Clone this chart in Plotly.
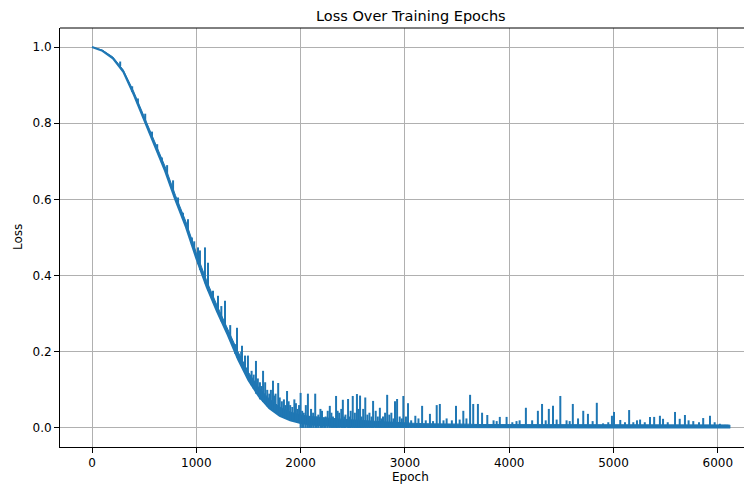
import plotly.graph_objects as go

# ---------------- data ----------------
base_epoch = list(range(0, 6101, 100)) + [6120]

# lower envelope of the loss curve
base_loss = [1.0, 0.99, 0.97, 0.935, 0.875, 0.81, 0.745, 0.675, 0.598, 0.528,
             0.445, 0.37, 0.305, 0.245, 0.18, 0.125, 0.083, 0.052, 0.032, 0.02,
             0.013, 0.009, 0.007, 0.005, 0.004, 0.003, 0.003, 0.0025, 0.0025, 0.002,
             0.002, 0.002, 0.002, 0.002, 0.002, 0.002, 0.002, 0.002, 0.002, 0.002,
             0.0015, 0.0015, 0.0015, 0.0015, 0.0015, 0.0015, 0.0015, 0.0015, 0.0015, 0.0015,
             0.001, 0.001, 0.001, 0.001, 0.001, 0.001, 0.001, 0.001, 0.001, 0.001,
             0.001, 0.001, 0.001]

# upper edge of the dense small-noise band
band_top = [1.0, 0.992, 0.974, 0.94, 0.883, 0.819, 0.755, 0.687, 0.611, 0.542,
            0.46, 0.386, 0.321, 0.262, 0.2, 0.146, 0.105, 0.076, 0.055, 0.042,
            0.034, 0.03, 0.027, 0.025, 0.023, 0.021, 0.019, 0.017, 0.016, 0.015,
            0.013, 0.012, 0.011, 0.011, 0.01, 0.01, 0.01, 0.009, 0.009, 0.009,
            0.009, 0.009, 0.009, 0.009, 0.009, 0.009, 0.009, 0.009, 0.009, 0.009,
            0.008, 0.008, 0.008, 0.008, 0.008, 0.008, 0.008, 0.008, 0.008, 0.008,
            0.008, 0.008, 0.007]

# individual loss spikes: epoch, level they rise from, peak value
spike_epoch = [270, 385, 440, 510, 575, 625, 670, 720, 777, 825,
               872, 920, 958, 980, 1016, 1035, 1083, 1112, 1160, 1208,
               1240, 1275, 1325, 1371, 1390, 1430, 1438, 1467, 1495, 1530,
               1572, 1610, 1640, 1680, 1735, 1760, 1785, 1820, 1870, 1900,
               1940, 1970,
               1550, 1590, 1625, 1660, 1700, 1715, 1750, 1800, 1840, 1855,
               1885, 1920, 1955, 1985]

spike_low = [0.95, 0.882, 0.85, 0.805, 0.762, 0.728, 0.697, 0.66, 0.617, 0.58,
             0.548, 0.512, 0.48, 0.465, 0.43, 0.415, 0.38, 0.36, 0.33, 0.30,
             0.28, 0.26, 0.235, 0.195, 0.185, 0.165, 0.16, 0.145, 0.13, 0.112,
             0.09, 0.075, 0.068, 0.057, 0.045, 0.04, 0.036, 0.03, 0.024, 0.02,
             0.017, 0.015,
             0.103, 0.087, 0.075, 0.064, 0.052, 0.049, 0.042, 0.032, 0.027, 0.025,
             0.022, 0.018, 0.016, 0.014]

spike_top = [0.962, 0.897, 0.865, 0.825, 0.778, 0.745, 0.71, 0.69, 0.65, 0.605,
             0.565, 0.548, 0.50, 0.49, 0.474, 0.466, 0.474, 0.434, 0.36, 0.347,
             0.32, 0.334, 0.27, 0.22, 0.263, 0.20, 0.216, 0.19, 0.19, 0.15,
             0.176, 0.12, 0.15, 0.10, 0.124, 0.09, 0.118, 0.07, 0.097, 0.06,
             0.075, 0.05,
             0.14, 0.13, 0.11, 0.12, 0.09, 0.10, 0.085, 0.08, 0.075, 0.06,
             0.07, 0.055, 0.065, 0.06]

# spikes in the flat tail (they rise from zero)
tail_epoch = [2000, 2015, 2030, 2050, 2070, 2085, 2100, 2120, 2140, 2155,
              2170, 2190, 2205, 2225, 2240, 2260, 2280, 2295, 2310, 2325,
              2340, 2355, 2370, 2390, 2405, 2420, 2430, 2455, 2470, 2480,
              2500, 2520, 2540, 2555, 2570, 2585, 2600, 2620, 2640, 2660,
              2680, 2695, 2720, 2740, 2760, 2775, 2790, 2810, 2830, 2850,
              2870, 2890, 2905, 2925, 2950, 2970, 2985,
              3010, 3030, 3060, 3100, 3130, 3165, 3200, 3240, 3270, 3305,
              3335, 3370, 3400, 3450, 3490, 3525, 3560, 3590, 3625, 3655,
              3700, 3740, 3790, 3850, 3880, 3910, 3975, 4030, 4070, 4100,
              4160, 4220, 4275, 4315, 4350, 4380, 4420, 4455, 4490, 4550,
              4580, 4610, 4660, 4710, 4755, 4800, 4840, 4900, 4950, 4985,
              5005, 5065, 5110, 5150, 5190, 5225, 5255, 5300, 5350, 5390,
              5445, 5475, 5520, 5590, 5635, 5685, 5720, 5765, 5820, 5860,
              5925, 5970, 6020, 6070]

tail_top = [0.092, 0.045, 0.04, 0.06, 0.09, 0.03, 0.05, 0.04, 0.09, 0.03,
            0.035, 0.05, 0.045, 0.025, 0.03, 0.045, 0.058, 0.04, 0.03, 0.025,
            0.084, 0.045, 0.04, 0.05, 0.074, 0.03, 0.035, 0.076, 0.03, 0.045,
            0.084, 0.04, 0.089, 0.05, 0.085, 0.03, 0.05, 0.08, 0.035, 0.04,
            0.03, 0.071, 0.045, 0.03, 0.053, 0.025, 0.03, 0.04, 0.087, 0.035,
            0.04, 0.025, 0.07, 0.076, 0.03, 0.025, 0.084,
            0.03, 0.065, 0.02, 0.032, 0.025, 0.058, 0.02, 0.037, 0.018, 0.06,
            0.063, 0.02, 0.025, 0.02, 0.058, 0.022, 0.045, 0.025, 0.087, 0.063,
            0.063, 0.04, 0.034, 0.02, 0.018, 0.029, 0.029, 0.015, 0.018, 0.02,
            0.053, 0.02, 0.045, 0.063, 0.02, 0.05, 0.058, 0.022, 0.084, 0.02,
            0.018, 0.063, 0.025, 0.045, 0.037, 0.018, 0.066, 0.012, 0.015, 0.032,
            0.042, 0.021, 0.015, 0.047, 0.015, 0.02, 0.022, 0.015, 0.029, 0.029,
            0.032, 0.024, 0.015, 0.042, 0.024, 0.034, 0.02, 0.018, 0.015, 0.026,
            0.032, 0.015, 0.011, 0.008]

x_ticks = [0, 1000, 2000, 3000, 4000, 5000, 6000]
y_ticks = [0.0, 0.2, 0.4, 0.6, 0.8, 1.0]
y_tick_text = ["0.0", "0.2", "0.4", "0.6", "0.8", "1.0"]

# ---------------- figure ----------------
C0 = "#1f77b4"
FONT = "DejaVu Sans, Verdana, sans-serif"

fig = go.Figure()

# dense noise band
fig.add_trace(go.Scatter(x=base_epoch, y=base_loss, mode="lines",
                         line=dict(color=C0, width=2), hoverinfo="skip"))
fig.add_trace(go.Scatter(x=base_epoch, y=band_top, mode="lines",
                         line=dict(color=C0, width=1), fill="tonexty",
                         fillcolor=C0, hoverinfo="skip"))

# spikes as vertical segments
sx, sy = [], []
for e, lo, hi in zip(spike_epoch, spike_low, spike_top):
    sx += [e, e, None]
    sy += [lo, hi, None]
for e, hi in zip(tail_epoch, tail_top):
    sx += [e, e, None]
    sy += [0.0, hi, None]
fig.add_trace(go.Scatter(x=sx, y=sy, mode="lines",
                         line=dict(color=C0, width=2), hoverinfo="skip"))

axis_common = dict(showgrid=True, gridcolor="#b0b0b0", gridwidth=1,
                   showline=True, linecolor="black", linewidth=1,
                   ticks="outside", ticklen=5, tickcolor="black", tickwidth=1,
                   zeroline=False, tickfont=dict(family=FONT, size=12, color="black"))

# the page body has an 8px margin, so the figure is shrunk by 8px and
# the plot area is placed at x 60..752, y 28..447 of the window
fig.update_layout(
    width=744, height=478,
    margin=dict(l=52, r=0, t=20, b=39),
    plot_bgcolor="white", paper_bgcolor="white",
    showlegend=False,
    font=dict(family=FONT, size=12, color="black"),
    xaxis=dict(range=[-307, 6328], tickvals=x_ticks, **axis_common),
    yaxis=dict(range=[-0.05, 1.05], tickvals=y_ticks, ticktext=y_tick_text,
               **axis_common),
    shapes=[dict(type="line", xref="paper", yref="paper", x0=0, x1=1, y0=1, y1=1,
                 line=dict(color="black", width=1))],
    annotations=[
        dict(text="Loss Over Training Epochs", xref="paper", yref="paper",
             x=0.507, y=1.0286, xanchor="center", yanchor="middle",
             showarrow=False, font=dict(family=FONT, size=14.5, color="black")),
        dict(text="Epoch", xref="paper", yref="paper", x=0.507, y=-0.0716,
             xanchor="center", yanchor="middle", showarrow=False,
             font=dict(family=FONT, size=12, color="black")),
        dict(text="Loss", xref="paper", yref="paper", x=-0.0607, y=0.501,
             xanchor="center", yanchor="middle", textangle=-90, showarrow=False,
             font=dict(family=FONT, size=12, color="black")),
    ],
)

fig.write_html("out.html")
